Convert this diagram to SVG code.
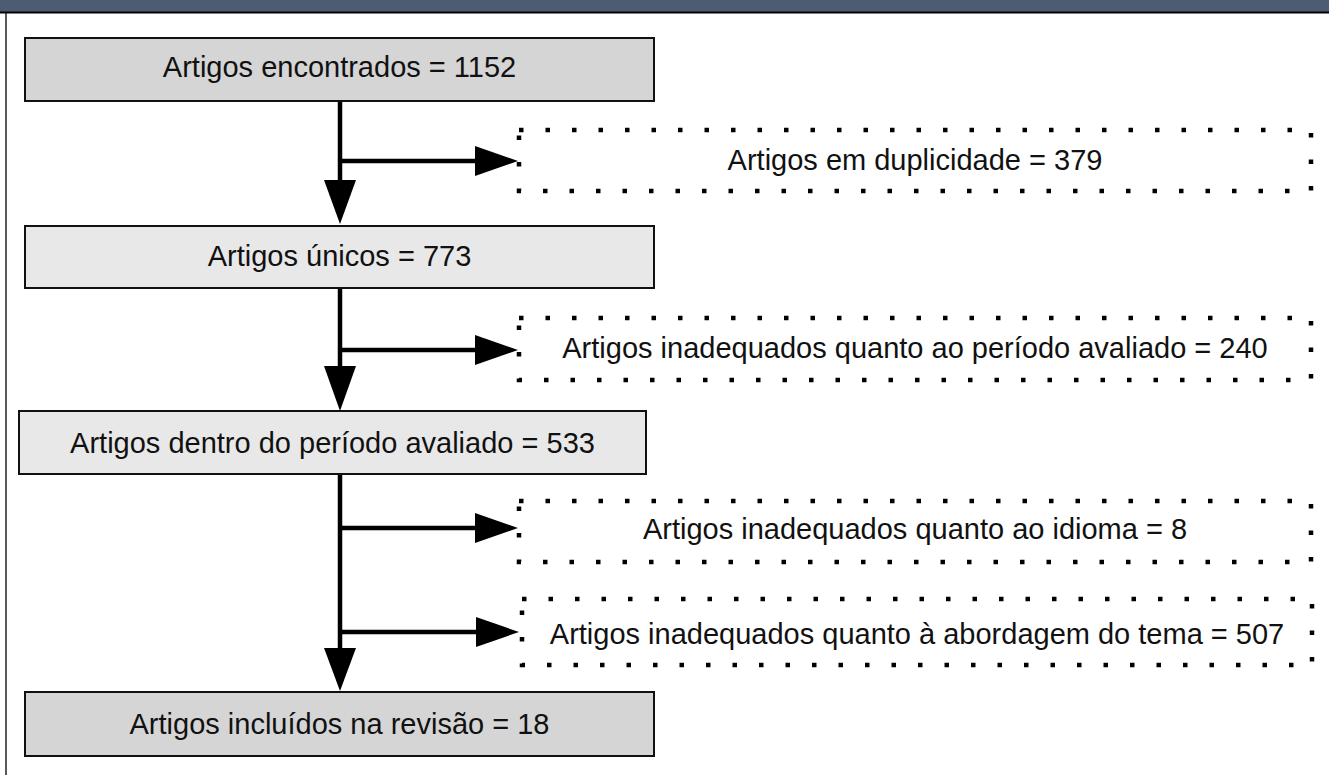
<svg xmlns="http://www.w3.org/2000/svg" width="1329" height="775" viewBox="0 0 1329 775">
<style>
.box{stroke:#111;stroke-width:2}
.dark{fill:#d5d5d5}
.light{fill:#e8e8e8}
.dot{fill:none;stroke:#000;stroke-width:4.5;stroke-dasharray:4.5 22}
.t{font-family:"Liberation Sans",Arial,sans-serif;font-size:29px;fill:#111;text-anchor:middle}
.ln{stroke:#000;stroke-width:4.5;fill:none}
.hd{fill:#000}
</style>
<rect x="0" y="0" width="1329" height="775" fill="#fff"/>
<rect x="0" y="0" width="1329" height="12" fill="#4b5c73"/>
<line x1="0" y1="12.5" x2="1329" y2="12.5" stroke="#000" stroke-width="2"/>
<line x1="6" y1="13" x2="6" y2="775" stroke="#222" stroke-width="1.5"/>

<g id="connectors">
<line class="ln" x1="340" y1="101" x2="340" y2="185"/>
<polygon class="hd" points="324,180 356,180 340,224"/>
<line class="ln" x1="340" y1="161" x2="480" y2="161"/>
<polygon class="hd" points="475,146 475,176 518,161"/>

<line class="ln" x1="340" y1="288" x2="340" y2="370"/>
<polygon class="hd" points="324,366 356,366 340,411"/>
<line class="ln" x1="340" y1="350" x2="480" y2="350"/>
<polygon class="hd" points="475,335 475,365 518,350"/>

<line class="ln" x1="340" y1="474" x2="340" y2="652"/>
<polygon class="hd" points="324,648 356,648 340,691"/>
<line class="ln" x1="340" y1="528" x2="480" y2="528"/>
<polygon class="hd" points="475,513 475,543 518,528"/>
<line class="ln" x1="340" y1="632" x2="480" y2="632"/>
<polygon class="hd" points="476,617 476,647 519,632"/>
</g>

<g id="n1">
<rect class="box dark" x="25" y="38" width="629" height="63"/>
<text class="t" x="339.5" y="77">Artigos encontrados = 1152</text>
</g>
<g id="n2">
<rect class="dot" x="519" y="130" width="792" height="61"/>
<text class="t" x="915" y="170">Artigos em duplicidade = 379</text>
</g>
<g id="n3">
<rect class="box light" x="25" y="226" width="629" height="62"/>
<text class="t" x="339.5" y="266">Artigos únicos = 773</text>
</g>
<g id="n4">
<rect class="dot" x="519" y="318" width="792" height="62"/>
<text class="t" x="915" y="358">Artigos inadequados quanto ao período avaliado = 240</text>
</g>
<g id="n5">
<rect class="box light" x="19" y="411" width="627" height="63"/>
<text class="t" x="332.5" y="453">Artigos dentro do período avaliado = 533</text>
</g>
<g id="n6">
<rect class="dot" x="519" y="501" width="792" height="61"/>
<text class="t" x="915" y="539">Artigos inadequados quanto ao idioma = 8</text>
</g>
<g id="n7">
<rect class="dot" x="522" y="599" width="790" height="66"/>
<text class="t" x="917" y="644">Artigos inadequados quanto à abordagem do tema = 507</text>
</g>
<g id="n8">
<rect class="box dark" x="25" y="692" width="629" height="64"/>
<text class="t" x="339.5" y="734">Artigos incluídos na revisão = 18</text>
</g>
</svg>
